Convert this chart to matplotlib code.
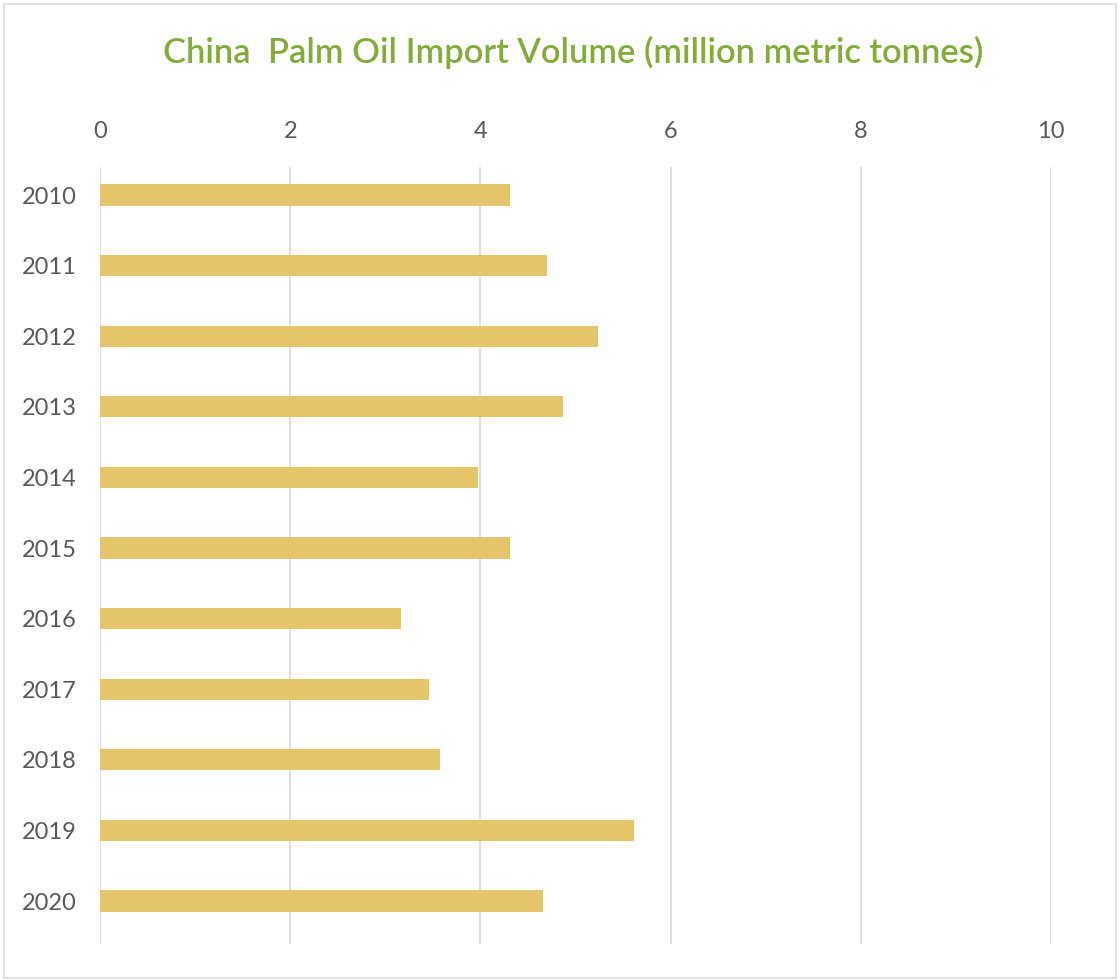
import matplotlib
matplotlib.use("Agg")
import matplotlib.pyplot as plt
from matplotlib.patches import Rectangle

years = ["2010", "2011", "2012", "2013", "2014", "2015", "2016", "2017", "2018", "2019", "2020"]
volumes = [4.31, 4.70, 5.24, 4.87, 3.97, 4.31, 3.17, 3.46, 3.58, 5.62, 4.66]
xticks = [0, 2, 4, 6, 8, 10]

plt.rcParams['font.family'] = ['Lato', 'DejaVu Sans']

W, H = 1120, 980
fig = plt.figure(figsize=(W / 100, H / 100), dpi=100)
fig.patches.append(Rectangle((4 / W, 2 / H), (W - 8) / W, (H - 6) / H, transform=fig.transFigure,
                             fill=False, edgecolor='#D9D9D9', linewidth=1.2))

ax = fig.add_axes([100 / W, 1 - 944 / H, (1051 - 100) / W, (944 - 167) / H])
pos = list(range(len(years)))
ax.barh(pos, volumes, height=0.3, color='#E4C56B', zorder=3)
ax.set_xlim(0, 10)
ax.set_ylim(10 + (944 - 901) / 70.6, -(195 - 167) / 70.6)
ax.set_xticks(xticks)
ax.set_xticklabels([str(t) for t in xticks])
ax.set_yticks(pos)
ax.set_yticklabels(years)
ax.xaxis.tick_top()
ax.tick_params(axis='x', length=0, pad=18, labelsize=17, labelcolor='#595959')
ax.tick_params(axis='y', length=0, pad=16.5, labelsize=17, labelcolor='#595959')
ax.grid(axis='x', color='#D9D9D9', linewidth=1.2, zorder=0)
for s in ax.spines.values():
    s.set_visible(False)

fig.text(573 / W, 1 - 52 / H, "China  Palm Oil Import Volume (million metric tonnes)",
         ha='center', va='center', fontsize=24.8, fontweight='semibold', color='#84AC3C')

fig.savefig("out.png", dpi=100)
